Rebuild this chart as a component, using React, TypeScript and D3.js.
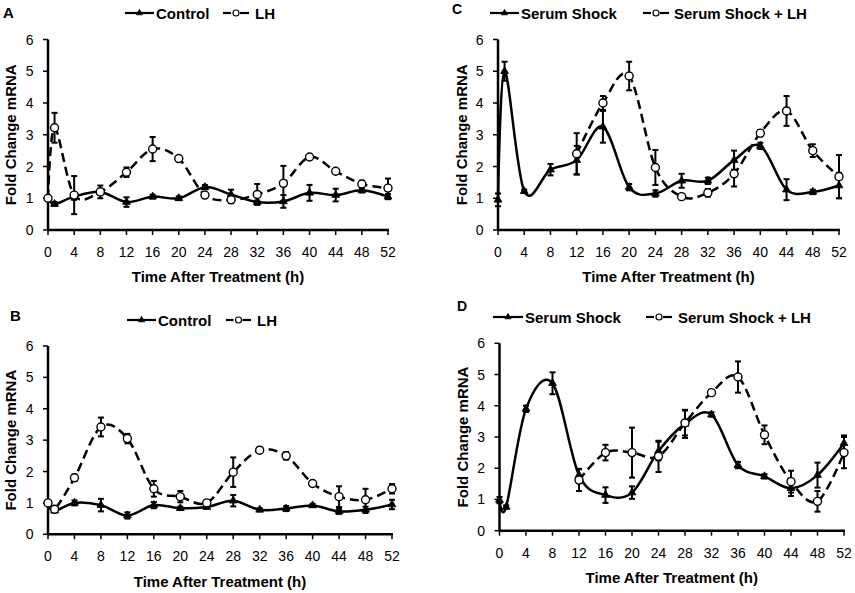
import React from 'react';
import * as d3 from 'd3';

const hours = [0, 1, 4, 8, 12, 16, 20, 24, 28, 32, 36, 40, 44, 48, 52];
const hoursLate = [12, 16, 20, 24, 28, 32, 36, 40, 44, 48, 52];
const xTicks = [0, 4, 8, 12, 16, 20, 24, 28, 32, 36, 40, 44, 48, 52];
const yTicks = [0, 1, 2, 3, 4, 5, 6];

const aControl = [1.0, 0.82, 1.05, 1.2, 0.88, 1.05, 1.0, 1.35, 1.12, 0.88, 0.9, 1.17, 1.1, 1.25, 1.05];
const aControlErr = [0.05, 0.06, 0.1, 0.1, 0.15, 0.06, 0.06, 0.07, 0.15, 0.05, 0.2, 0.25, 0.2, 0.07, 0.08];
const aLH = [1.0, 3.22, 1.1, 1.2, 1.82, 2.55, 2.25, 1.1, 0.95, 1.12, 1.47, 2.3, 1.85, 1.45, 1.32];
const aLHErr = [0.05, 0.47, 0.6, 0.2, 0.15, 0.38, 0.07, 0.07, 0.1, 0.33, 0.55, 0.07, 0.05, 0.1, 0.3];

const bControl = [1.0, 0.75, 1.0, 0.93, 0.6, 0.93, 0.83, 0.87, 1.07, 0.78, 0.82, 0.92, 0.73, 0.78, 0.95];
const bControlErr = [0.05, 0.05, 0.08, 0.2, 0.1, 0.1, 0.05, 0.05, 0.18, 0.05, 0.08, 0.05, 0.08, 0.1, 0.15];
const bLH = [1.0, 0.8, 1.8, 3.42, 3.05, 1.45, 1.2, 1.0, 1.98, 2.68, 2.5, 1.62, 1.2, 1.1, 1.45];
const bLHErr = [0.05, 0.05, 0.1, 0.3, 0.15, 0.25, 0.18, 0.08, 0.47, 0.08, 0.12, 0.08, 0.33, 0.35, 0.15];

const cShock = [0.95, 5.0, 1.22, 1.9, 2.2, 3.25, 1.35, 1.15, 1.55, 1.55, 2.2, 2.65, 1.27, 1.2, 1.4];
const cShockErr = [0.2, 0.3, 0.05, 0.18, 0.45, 0.5, 0.1, 0.1, 0.22, 0.1, 0.3, 0.1, 0.33, 0.07, 0.4];
const cShockLH = [2.4, 4.0, 4.85, 1.97, 1.05, 1.17, 1.77, 3.05, 3.75, 2.5, 1.68];
const cShockLHErr = [0.65, 0.22, 0.45, 0.55, 0.07, 0.12, 0.4, 0.1, 0.47, 0.2, 0.68];

const dShock = [0.98, 0.76, 3.9, 4.72, 1.78, 1.14, 1.22, 2.55, 3.42, 3.72, 2.1, 1.74, 1.36, 1.78, 2.8];
const dShockErr = [0.1, 0.05, 0.1, 0.35, 0.2, 0.25, 0.2, 0.3, 0.45, 0.07, 0.1, 0.07, 0.25, 0.4, 0.25];
const dShockLH = [1.62, 2.5, 2.5, 2.38, 3.45, 4.42, 4.92, 3.07, 1.57, 0.94, 2.5];
const dShockLHErr = [0.35, 0.25, 0.8, 0.5, 0.4, 0.08, 0.5, 0.3, 0.35, 0.33, 0.5];

const FONT = '"Liberation Sans", Arial, sans-serif';

type Series = { x: number[]; y: number[]; err: number[]; name: string; dashed: boolean };

type PanelCfg = {
  letter: string;
  letterPos: [number, number];
  letterSize: number;
  left: number;
  right: number;
  top: number;
  bottom: number;
  legendY: number;
  legend: { x0: number; x1: number; tx: number }[];
  yTitleX: number;
  xTitleY: number;
  series: Series[];
};

const panels: PanelCfg[] = [
  {
    letter: 'A', letterPos: [3, 18], letterSize: 15, left: 48, right: 388, top: 39.5, bottom: 230,
    legendY: 13, legend: [{ x0: 125, x1: 154, tx: 156 }, { x0: 223, x1: 249, tx: 255 }],
    yTitleX: 16, xTitleY: 282,
    series: [
      { x: hours, y: aControl, err: aControlErr, name: 'Control', dashed: false },
      { x: hours, y: aLH, err: aLHErr, name: 'LH', dashed: true },
    ],
  },
  {
    letter: 'B', letterPos: [10, 321], letterSize: 15, left: 48, right: 392, top: 346, bottom: 534.3,
    legendY: 320, legend: [{ x0: 127, x1: 156, tx: 158 }, { x0: 226, x1: 251, tx: 257 }],
    yTitleX: 16, xTitleY: 587,
    series: [
      { x: hours, y: bControl, err: bControlErr, name: 'Control', dashed: false },
      { x: hours, y: bLH, err: bLHErr, name: 'LH', dashed: true },
    ],
  },
  {
    letter: 'C', letterPos: [452, 14], letterSize: 14, left: 498, right: 839, top: 39.5, bottom: 230,
    legendY: 13, legend: [{ x0: 490, x1: 519, tx: 521 }, { x0: 643, x1: 669, tx: 674 }],
    yTitleX: 467, xTitleY: 282,
    series: [
      { x: hours, y: cShock, err: cShockErr, name: 'Serum Shock', dashed: false },
      { x: hoursLate, y: cShockLH, err: cShockLHErr, name: 'Serum Shock + LH', dashed: true },
    ],
  },
  {
    letter: 'D', letterPos: [457, 311], letterSize: 14, left: 499.5, right: 844, top: 343.3, bottom: 530.7,
    legendY: 317, legend: [{ x0: 493, x1: 523, tx: 525 }, { x0: 646, x1: 672, tx: 678 }],
    yTitleX: 468, xTitleY: 583,
    series: [
      { x: hours, y: dShock, err: dShockErr, name: 'Serum Shock', dashed: false },
      { x: hoursLate, y: dShockLH, err: dShockLHErr, name: 'Serum Shock + LH', dashed: true },
    ],
  },
];

const DASH = '9,5';

function Triangle({ cx, cy, s = 7 }: { cx: number; cy: number; s?: number }) {
  const p = d3.symbol(d3.symbolTriangle, s * s * 0.55)();
  return <path d={p || ''} transform={`translate(${cx},${cy})`} fill="#000" stroke="#000" strokeWidth={0.8} />;
}

function Marker({ dashed, cx, cy, small }: { dashed: boolean; cx: number; cy: number; small?: boolean }) {
  if (dashed)
    return <circle cx={cx} cy={cy} r={small ? 3 : 4} fill="#fff" stroke="#000" strokeWidth={small ? 1.2 : 1.4} />;
  return <Triangle cx={cx} cy={cy} s={small ? 5.5 : 7} />;
}

function Panel({ cfg }: { cfg: PanelCfg }) {
  const x = d3.scaleLinear().domain([0, 52]).range([cfg.left, cfg.right]);
  const y = d3.scaleLinear().domain([0, 6]).range([cfg.bottom, cfg.top]);
  const line = d3
    .line<[number, number]>()
    .x((d) => x(d[0]))
    .y((d) => y(d[1]))
    .curve(d3.curveCardinal.tension(0));
  const midY = (cfg.top + cfg.bottom) / 2;
  const midX = (cfg.left + cfg.right) / 2;
  return (
    <g fontFamily={FONT}>
      <text x={cfg.letterPos[0]} y={cfg.letterPos[1]} fontSize={cfg.letterSize} fontWeight="bold">{cfg.letter}</text>
      {/* legend */}
      {cfg.series.map((s, i) => {
        const l = cfg.legend[i];
        const m = (l.x0 + l.x1) / 2;
        return (
          <g key={'lg' + i}>
            {s.dashed ? (
              <>
                <line x1={l.x0} x2={m - 5} y1={cfg.legendY} y2={cfg.legendY} stroke="#000" strokeWidth={2.2} />
                <line x1={m + 4} x2={l.x1} y1={cfg.legendY} y2={cfg.legendY} stroke="#000" strokeWidth={2.2} />
              </>
            ) : (
              <line x1={l.x0} x2={l.x1} y1={cfg.legendY} y2={cfg.legendY} stroke="#000" strokeWidth={2.2} />
            )}
            <Marker dashed={s.dashed} cx={m} cy={cfg.legendY} small />
            <text x={l.tx} y={cfg.legendY + 5.5} fontSize={15} fontWeight="bold">{s.name}</text>
          </g>
        );
      })}
      {/* axes */}
      <line x1={cfg.left} x2={cfg.left} y1={cfg.top} y2={cfg.bottom} stroke="#000" strokeWidth={2.5} />
      <line x1={cfg.left} x2={cfg.right + 1} y1={cfg.bottom} y2={cfg.bottom} stroke="#000" strokeWidth={2.5} />
      {yTicks.map((t) => (
        <g key={'yt' + t}>
          <line x1={cfg.left - 5} x2={cfg.left} y1={y(t)} y2={y(t)} stroke="#000" strokeWidth={1.5} />
          <text x={cfg.left - 14.5} y={y(t) + 5} fontSize={14} textAnchor="end">{t}</text>
        </g>
      ))}
      {xTicks.map((t) => (
        <g key={'xt' + t}>
          <line x1={x(t)} x2={x(t)} y1={cfg.bottom} y2={cfg.bottom + 5} stroke="#000" strokeWidth={1.5} />
          <text x={x(t)} y={cfg.bottom + 27} fontSize={14} textAnchor="middle">{t}</text>
        </g>
      ))}
      <text x={midX} y={cfg.xTitleY} fontSize={15} fontWeight="bold" textAnchor="middle">Time After Treatment (h)</text>
      <text transform={`translate(${cfg.yTitleX},${midY}) rotate(-90)`} fontSize={15} fontWeight="bold" textAnchor="middle">Fold Change mRNA</text>
      {/* series */}
      {cfg.series.map((s, i) => {
        const pts = s.x.map((h, j) => [h, s.y[j]] as [number, number]);
        return (
          <g key={'s' + i}>
            <path d={line(pts) || ''} fill="none" stroke="#000" strokeWidth={2.5}
              strokeDasharray={s.dashed ? DASH : undefined} />
            {pts.map((p, j) => {
              const px = x(p[0]);
              const hi = y(p[1] + s.err[j]);
              const lo = y(p[1] - s.err[j]);
              return (
                <g key={'e' + j}>
                  <line x1={px} x2={px} y1={hi} y2={lo} stroke="#000" strokeWidth={2} />
                  <line x1={px - 3} x2={px + 3} y1={hi} y2={hi} stroke="#000" strokeWidth={2} />
                  <line x1={px - 3} x2={px + 3} y1={lo} y2={lo} stroke="#000" strokeWidth={2} />
                </g>
              );
            })}
            {pts.map((p, j) => (
              <Marker key={'m' + j} dashed={s.dashed} cx={x(p[0])} cy={y(p[1])} />
            ))}
          </g>
        );
      })}
    </g>
  );
}

export default function App() {
  return (
    <svg width={855} height={593} style={{ position: 'fixed', left: 0, top: 0, background: '#fff' }}>
      <rect width={855} height={593} fill="#fff" />
      {panels.map((p) => (
        <Panel key={p.letter} cfg={p} />
      ))}
    </svg>
  );
}
